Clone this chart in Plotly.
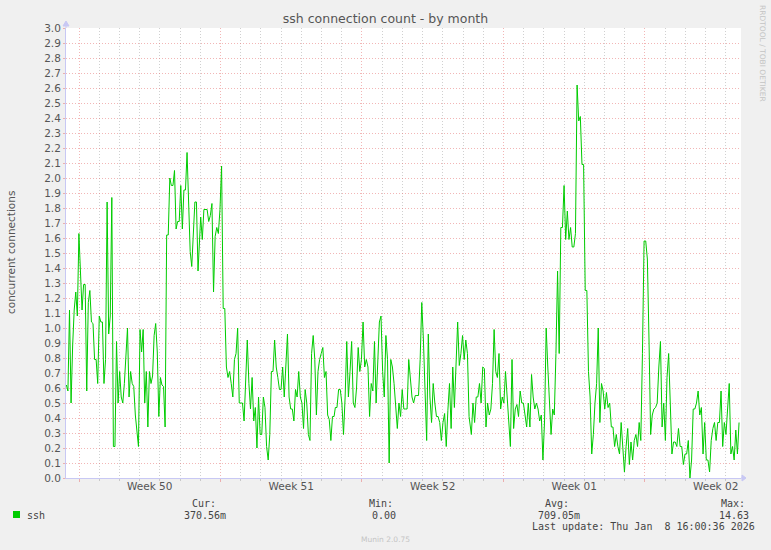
import pandas as pd
import plotly.graph_objects as go

# ssh connection count (munin "by month"), values in 5 stretches
part_starts = ["2025-12-06 09:00", "2025-12-13 00:30", "2025-12-19 16:24",
               "2025-12-26 09:54", "2026-01-02 02:18"]
part_ends = ["2025-12-12 21:20", "2025-12-19 14:54", "2025-12-26 07:12",
             "2026-01-02 00:18", "2026-01-08 15:48"]

ssh_part1 = [0.62, 0.58, 1.12, 0.50, 0.88, 1.12, 1.24, 1.08, 1.63, 1.39, 1.12, 1.29, 1.29, 0.58,
             1.17, 1.25, 1.04, 1.03, 0.79, 0.79, 0.63, 1.08, 1.04, 1.04, 0.63, 0.79, 1.84, 0.96,
             1.08, 1.87, 0.21, 0.21, 0.91, 0.50, 0.71, 0.54, 0.50, 0.63, 0.87, 1.00, 0.54, 0.71,
             0.63, 0.61, 0.42, 0.29, 0.21, 0.99, 0.84, 0.99, 0.50, 0.71, 0.34, 0.71, 0.63, 0.68,
             0.95, 1.03, 0.84, 0.41, 0.67, 0.62, 0.61, 0.34, 1.62, 1.62, 2.00, 1.95, 1.95, 2.05,
             1.66, 1.71, 1.71, 1.95, 1.66, 1.92, 1.92, 2.17, 1.83, 1.51, 1.41, 1.62, 1.84, 1.84, 1.38]
ssh_part2 = [1.74, 1.59, 1.79, 1.79, 1.79, 1.71, 1.75, 1.83, 1.24, 1.61, 1.67, 1.63, 1.79, 2.08,
             1.13, 1.13, 0.74, 0.67, 0.71, 0.63, 0.54, 0.79, 0.83, 1.00, 0.50, 0.50, 0.50, 0.38,
             0.71, 0.92, 0.63, 0.46, 0.67, 0.38, 0.47, 0.20, 0.54, 0.29, 0.29, 0.54, 0.47, 0.21,
             0.12, 0.29, 0.71, 0.71, 0.92, 0.74, 0.67, 0.59, 0.59, 0.74, 0.54, 0.74, 0.96, 0.54,
             0.46, 0.46, 0.38, 0.59, 0.54, 0.71, 0.54, 0.50, 0.33, 0.59, 0.50, 0.29, 0.25, 0.83,
             0.95, 0.79, 0.42, 0.71, 0.79, 0.83, 0.87, 0.67, 0.71, 0.42, 0.39, 0.25, 0.41, 0.41]
ssh_part3 = [0.47, 0.47, 0.59, 0.59, 0.50, 0.29, 0.54, 0.91, 0.54, 0.71, 0.91, 0.50, 0.47, 0.60,
             0.87, 0.71, 0.79, 1.04, 0.74, 0.79, 0.74, 0.41, 0.63, 0.58, 0.91, 0.50, 0.79, 1.04,
             1.08, 0.71, 0.54, 0.95, 0.79, 0.10, 0.79, 0.74, 0.63, 0.50, 0.33, 0.50, 0.41, 0.59,
             0.46, 0.46, 0.46, 0.79, 0.63, 0.54, 0.50, 0.55, 0.55, 0.55, 0.79, 1.17, 0.92, 0.58,
             0.25, 0.96, 0.54, 0.37, 0.63, 0.50, 0.41, 0.41, 0.37, 0.25, 0.37, 0.43, 0.21, 0.45,
             0.63, 0.33, 0.74, 0.47, 0.75, 1.04, 0.75, 0.83, 0.95, 0.79, 0.92, 0.83, 0.41]
ssh_part4 = [0.29, 0.50, 0.37, 0.54, 0.54, 0.63, 0.50, 0.74, 0.73, 0.34, 0.50, 0.42, 0.46, 0.63,
             0.99, 0.71, 0.67, 0.83, 0.46, 0.54, 0.50, 0.71, 0.54, 0.39, 0.21, 0.79, 0.33, 0.46,
             0.49, 0.41, 0.58, 0.50, 0.50, 0.42, 0.34, 0.50, 0.34, 0.69, 0.54, 0.46, 0.50, 0.46,
             0.38, 0.42, 0.12, 0.38, 1.00, 0.74, 0.50, 0.29, 0.46, 0.42, 0.83, 1.38, 0.83, 1.67,
             1.67, 1.95, 1.59, 1.78, 1.59, 1.67, 1.54, 1.54, 1.63, 2.62, 2.38, 2.41, 2.09, 2.09,
             1.25, 1.25, 0.71, 0.54, 0.16, 0.29, 0.50, 0.63, 1.00, 0.37, 0.63, 0.58, 0.46]
ssh_part5 = [0.57, 0.47, 0.50, 0.34, 0.34, 0.21, 0.29, 0.21, 0.16, 0.37, 0.16, 0.04, 0.21, 0.33,
             0.09, 0.24, 0.12, 0.25, 0.29, 0.21, 0.37, 0.25, 0.83, 1.58, 1.58, 1.46, 0.92, 0.29,
             0.42, 0.46, 0.47, 0.50, 0.74, 0.91, 0.34, 0.50, 0.25, 0.67, 0.83, 0.50, 0.16, 0.24,
             0.24, 0.21, 0.33, 0.21, 0.21, 0.09, 0.16, 0.16, 0.25, 0.00, 0.12, 0.46, 0.46, 0.50,
             0.58, 0.42, 0.47, 0.16, 0.37, 0.12, 0.12, 0.04, 0.25, 0.33, 0.37, 0.25, 0.37, 0.37,
             0.58, 0.21, 0.37, 0.29, 0.48, 0.63, 0.16, 0.21, 0.12, 0.32, 0.16, 0.37]

week_labels = ["Week 50", "Week 51", "Week 52", "Week 01", "Week 02"]
week_centers = ["2025-12-10 12:00", "2025-12-17 12:00", "2025-12-24 12:00",
                "2025-12-31 12:00", "2026-01-07 12:00"]
first_week = "2025-12-07"
x_range = ["2025-12-06 08:34", "2026-01-08 18:06"]

stat_names = ["Cur:", "Min:", "Avg:", "Max:"]
stat_values = ["370.56m", "0.00", "709.05m", "14.63"]
last_update = "Last update: Thu Jan  8 16:00:36 2026"

parts = [ssh_part1, ssh_part2, ssh_part3, ssh_part4, ssh_part5]
times, values = [], []
for start, end, vals in zip(part_starts, part_ends, parts):
    times += list(pd.date_range(start, end, periods=len(vals)))
    values += vals

# pixel helpers for the munin legend block (plot area 66..741 x 28..478)
W, H = 771, 550
L, R, T, B = 66, 741, 28, 478
def px(x):
    return (x - L) / (R - L)
def py(y):
    return (B - y) / (B - T)

GREEN = "#00cc00"
MGRID = "rgba(230,110,110,0.5)"
GRID = "rgba(150,150,150,0.45)"
AXIS = "#c8c8f4"
TXT = "#555555"
FONT = "DejaVu Sans"
MONO = "DejaVu Sans Mono"
DAY = 86400000

def note(text, x, y, xanchor="center", font=MONO, size=10, color="#444", angle=0):
    fig.add_annotation(text=text, xref="paper", yref="paper", x=px(x), y=py(y),
                       xanchor=xanchor, yanchor="middle", textangle=angle, showarrow=False,
                       borderpad=0, font=dict(family=font, size=size, color=color))

fig = go.Figure()
fig.add_trace(go.Scatter(x=[], y=[], xaxis="x", yaxis="y", showlegend=False, hoverinfo="skip"))
fig.add_trace(go.Scatter(x=times, y=values, xaxis="x2", yaxis="y", mode="lines", name="ssh",
                         line=dict(color=GREEN, width=1), showlegend=False))

fig.update_layout(
    width=W, height=H,
    margin=dict(l=L, r=W - R, t=T, b=H - B),
    paper_bgcolor="#f0f0f0", plot_bgcolor="white",
    title=dict(text="ssh connection count - by month", x=0.5, xref="container",
               xanchor="center", y=1 - 19 / H, yanchor="middle",
               font=dict(family=FONT, size=12.5, color=TXT)),
    xaxis=dict(type="date", range=x_range, tickmode="linear", tick0=first_week, dtick=7 * DAY,
               showticklabels=False, showgrid=True, gridcolor=MGRID, griddash="1px,2px",
               ticks="outside", ticklen=3, tickcolor=MGRID, showline=True, linecolor=AXIS,
               zeroline=False,
               minor=dict(tick0=first_week, dtick=DAY, showgrid=True, gridcolor=GRID,
                          griddash="1px,2px", ticks="outside", ticklen=2, tickcolor=GRID)),
    xaxis2=dict(type="date", range=x_range, overlaying="x", anchor="y", side="bottom",
                tickmode="array", tickvals=week_centers, ticktext=week_labels,
                showgrid=False, ticks="", zeroline=False, showline=False,
                tickfont=dict(family=FONT, size=10.5, color=TXT)),
    yaxis=dict(range=[0, 3.0], tickmode="linear", tick0=0, dtick=0.1, tickformat=".1f",
               showgrid=True, gridcolor=MGRID, griddash="1px,2px", ticks="outside", ticklen=2,
               tickcolor=MGRID, showline=True, linecolor=AXIS, zeroline=False,
               tickfont=dict(family=FONT, size=10.5, color=TXT)),
)

# axis arrows
fig.add_shape(type="path", xref="paper", yref="paper", xsizemode="pixel", ysizemode="pixel",
              xanchor=0, yanchor=1, path="M0,0 L0,2 M-3,2 L3,2 L0,7 Z",
              fillcolor=AXIS, line=dict(color=AXIS, width=1))
fig.add_shape(type="path", xref="paper", yref="paper", xsizemode="pixel", ysizemode="pixel",
              xanchor=1, yanchor=0, path="M0,0 L1,0 M1,-3 L1,3 L5,0 Z",
              fillcolor=AXIS, line=dict(color=AXIS, width=1))

# y axis label and rrdtool credit
note("concurrent connections", 11, 252, font=FONT, size=10.5, color=TXT, angle=-90)
note("RRDTOOL / TOBI OETIKER", 763, 54, font=FONT, size=7.5, color="#c4c4c4", angle=90)

# legend block
fig.add_shape(type="rect", xref="paper", yref="paper", x0=px(13), x1=px(20), y0=py(518),
              y1=py(511), fillcolor=GREEN, line=dict(width=0))
note("ssh", 26, 515, xanchor="left")
name_x = [190.5, 367.5, 543.5, 720]
value_right = [227, 397, 580.5, 750]
for name, val, nx, vx in zip(stat_names, stat_values, name_x, value_right):
    note(name, nx, 503.5, xanchor="left")
    note(val, vx, 515, xanchor="right")
note(last_update, 755.5, 526.5, xanchor="right")
note("Munin 2.0.75", 385, 539, font=FONT, size=7.5, color="#c4c4c4")

# drop the page's default 8px body margin so the figure sits at the window's corner
fig.write_html("out.html", config={"displayModeBar": False},
               post_script="document.body.style.margin='0';")
